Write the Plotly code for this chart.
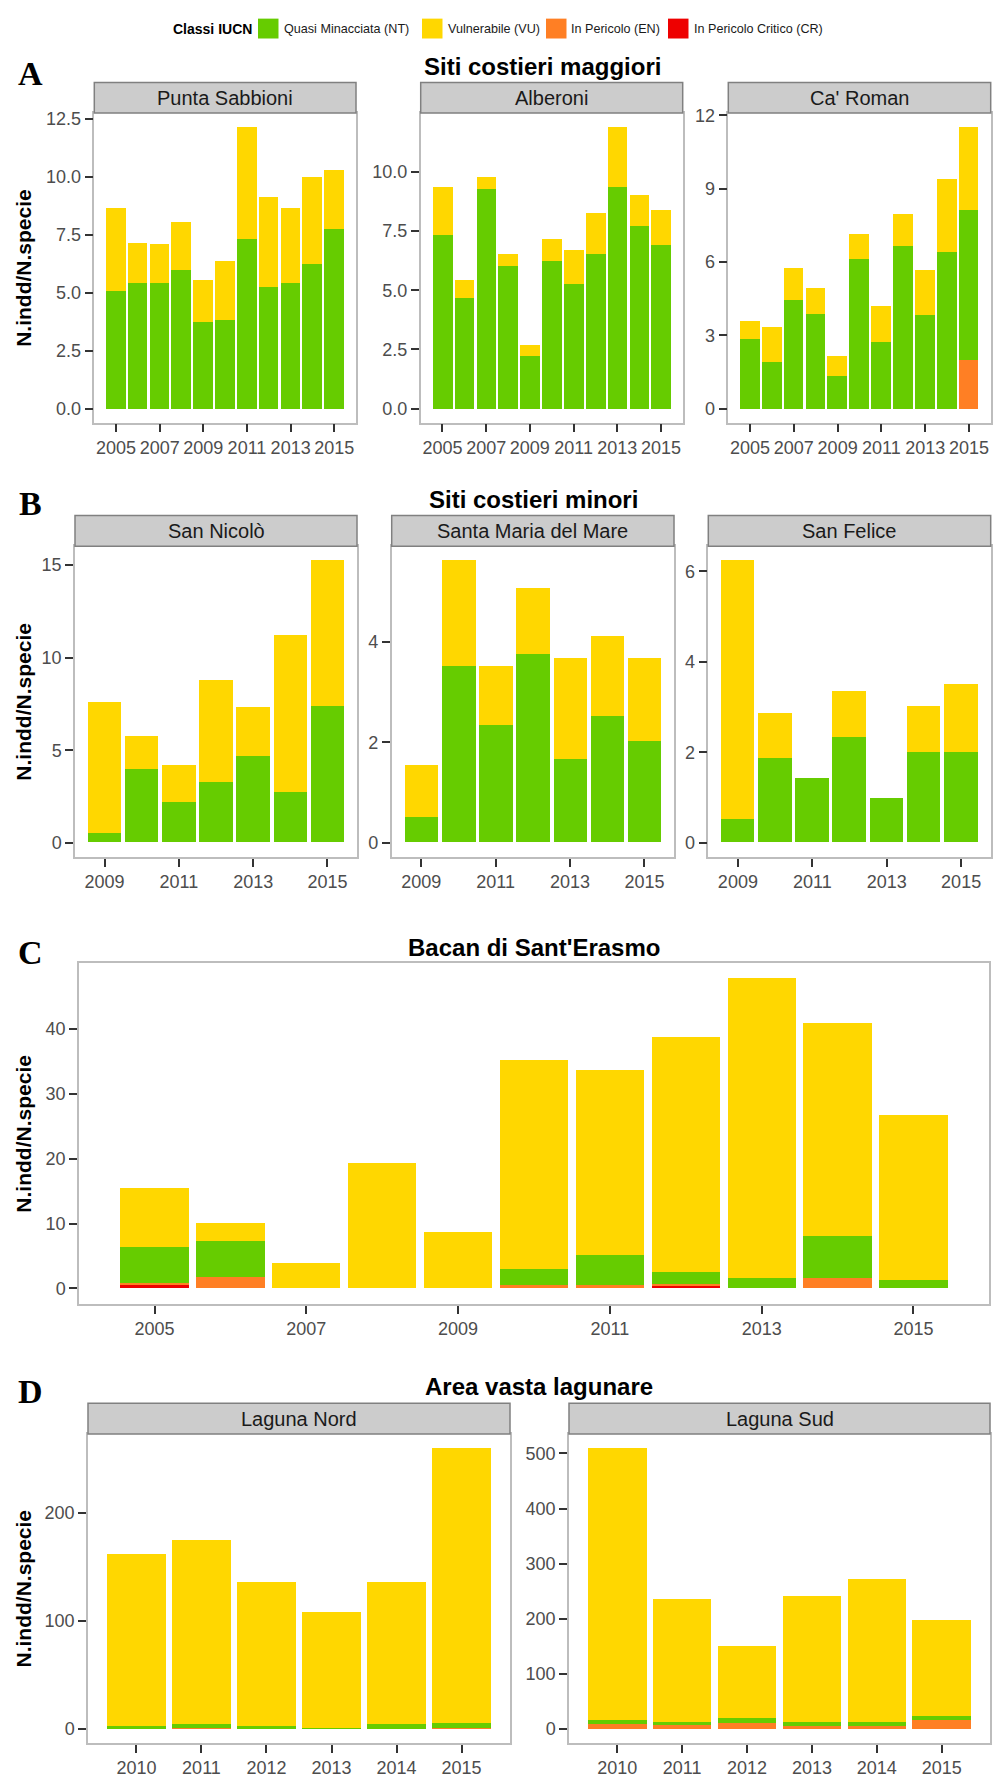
import plotly.graph_objects as go
import numpy as np

# ---------------- DATA ----------------
years_A = [2005, 2006, 2007, 2008, 2009, 2010, 2011, 2012, 2013, 2014, 2015]
years_B = [2009, 2010, 2011, 2012, 2013, 2014, 2015]
years_C = [2005, 2006, 2007, 2008, 2009, 2010, 2011, 2012, 2013, 2014, 2015]
years_D = [2010, 2011, 2012, 2013, 2014, 2015]

# A - Siti costieri maggiori
punta_NT = [5.06, 5.43, 5.43, 5.99, 3.73, 3.80, 7.31, 5.24, 5.39, 6.21, 7.73]
punta_VU = [3.58, 1.71, 1.64, 2.04, 1.83, 2.54, 4.82, 3.89, 3.24, 3.75, 2.54]
alberoni_NT = [7.34, 4.68, 9.27, 6.02, 2.20, 6.22, 5.28, 6.51, 9.37, 7.73, 6.89]
alberoni_VU = [2.00, 0.75, 0.49, 0.49, 0.49, 0.94, 1.41, 1.74, 2.52, 1.30, 1.50]
caroman_EN = [0, 0, 0, 0, 0, 0, 0, 0, 0, 0, 1.97]
caroman_NT = [2.85, 1.89, 4.44, 3.86, 1.34, 6.12, 2.71, 6.64, 3.83, 6.41, 6.16]
caroman_VU = [0.75, 1.44, 1.32, 1.09, 0.80, 1.01, 1.50, 1.31, 1.86, 2.97, 3.39]

# B - Siti costieri minori
sannicolo_NT = [0.50, 3.99, 2.17, 3.28, 4.67, 2.74, 7.39]
sannicolo_VU = [7.07, 1.76, 2.00, 5.49, 2.67, 8.48, 7.86]
smm_NT = [0.50, 3.52, 2.33, 3.76, 1.67, 2.51, 2.01]
smm_VU = [1.04, 2.10, 1.19, 1.31, 2.00, 1.60, 1.67]
sanfelice_NT = [0.51, 1.87, 1.42, 2.33, 0.99, 1.99, 1.99]
sanfelice_VU = [5.73, 1.00, 0.00, 1.01, 0.00, 1.02, 1.51]

# C - Bacan di Sant'Erasmo
bacan_CR = [0.50, 0, 0, 0, 0, 0, 0, 0.45, 0, 0, 0]
bacan_EN = [0.25, 1.68, 0, 0, 0, 0.50, 0.50, 0.25, 0, 1.53, 0]
bacan_NT = [5.53, 5.51, 0, 0, 0, 2.46, 4.65, 1.75, 1.58, 6.53, 1.28]
bacan_VU = [9.18, 2.91, 3.88, 19.29, 8.57, 32.24, 28.52, 36.22, 46.12, 32.74, 25.42]

# D - Area vasta lagunare
nord_EN = [0, 0.6, 0, 0, 0, 0.6]
nord_NT = [2.5, 3.7, 2.5, 1.0, 4.5, 5.0]
nord_VU = [159.2, 170.3, 133.2, 106.8, 131.2, 254.7]
sud_EN = [9, 6, 10, 5, 5, 15]
sud_NT = [7, 7, 9, 8, 8, 9]
sud_VU = [493.6, 222, 131, 228, 258, 172.6]

# tick values / labels
xt_A = [2005, 2007, 2009, 2011, 2013, 2015]
xt_B = [2009, 2011, 2013, 2015]
xt_C = [2005, 2007, 2009, 2011, 2013, 2015]
xt_D = [2010, 2011, 2012, 2013, 2014, 2015]
yt_punta = [0.0, 2.5, 5.0, 7.5, 10.0, 12.5]
yt_alberoni = [0.0, 2.5, 5.0, 7.5, 10.0]
yt_caroman = [0, 3, 6, 9, 12]
yt_sannicolo = [0, 5, 10, 15]
yt_smm = [0, 2, 4]
yt_sanfelice = [0, 2, 4, 6]
yt_bacan = [0, 10, 20, 30, 40]
yt_nord = [0, 100, 200]
yt_sud = [0, 100, 200, 300, 400, 500]

classes = ["CR", "EN", "NT", "VU"]
class_labels = {"NT": "Quasi Minacciata (NT)", "VU": "Vulnerabile (VU)",
                "EN": "In Pericolo (EN)", "CR": "In Pericolo Critico (CR)"}
COLORS = {"NT": "#66CC00", "VU": "#FFD700", "EN": "#FF7F24", "CR": "#EE0000"}

# ---------------- LAYOUT HELPERS ----------------
W, H = 1000, 1778
FONT = "Liberation Sans, Arial, Helvetica, sans-serif"
SERIF = "Liberation Serif, Times New Roman, serif"
TICKFONT = dict(family=FONT, size=18, color="#4D4D4D")

fig = go.Figure()
layout = {}
annotations = []
shapes = []


def fx(x):
    return x / W


def fy(y):
    return 1 - y / H


def add_panel(n, box, years, series, xticks, yticks, yfmt, strip=None):
    l, r, t, b = box
    xa = "xaxis" if n == 1 else f"xaxis{n}"
    ya = "yaxis" if n == 1 else f"yaxis{n}"
    xr = "x" if n == 1 else f"x{n}"
    yr = "y" if n == 1 else f"y{n}"
    for k in classes:
        if k in series:
            fig.add_trace(go.Bar(x=years, y=series[k], width=0.9, name=class_labels[k],
                                 marker=dict(color=COLORS[k], line=dict(width=0)),
                                 xaxis=xr, yaxis=yr, showlegend=False))
    total = np.sum([np.array(series[k]) for k in series], axis=0)
    m = float(total.max())
    span = years[-1] - years[0] + 0.9
    common = dict(ticks="outside", ticklen=8, tickwidth=2, tickcolor="#333333",
                  showline=True, mirror=True, linecolor="#BDBDBD", linewidth=1.5,
                  showgrid=False, zeroline=False, tickfont=TICKFONT)
    layout[xa] = dict(domain=[fx(l), fx(r)],
                      range=[years[0] - 0.45 - 0.05 * span, years[-1] + 0.45 + 0.05 * span],
                      anchor=yr, tickmode="array", tickvals=xticks,
                      ticktext=[str(v) for v in xticks], **common)
    layout[ya] = dict(domain=[fy(b), fy(t)], range=[-0.05 * m, 1.05 * m],
                      anchor=xr, tickmode="array", tickvals=yticks,
                      ticktext=[format(v, yfmt) for v in yticks], **common)
    if strip:
        st = strip[1]
        shapes.append(dict(type="rect", xref="paper", yref="paper",
                           x0=fx(l), x1=fx(r), y0=fy(t), y1=fy(st),
                           fillcolor="#CCCCCC", line=dict(color="#808080", width=1.5),
                           layer="above"))
        annotations.append(dict(text=strip[0], x=fx((l + r) / 2), y=fy((st + t) / 2),
                                xref="paper", yref="paper", showarrow=False,
                                xanchor="center", yanchor="middle",
                                font=dict(family=FONT, size=20, color="#1A1A1A")))


def ytitle(yc):
    annotations.append(dict(text="<b>N.indd/N.specie</b>", x=fx(24), y=fy(yc),
                            xref="paper", yref="paper", showarrow=False, textangle=-90,
                            xanchor="center", yanchor="middle",
                            font=dict(family=FONT, size=21, color="#000000")))


def title(text, xc, yc):
    annotations.append(dict(text=f"<b>{text}</b>", x=fx(xc), y=fy(yc),
                            xref="paper", yref="paper", showarrow=False,
                            xanchor="center", yanchor="middle",
                            font=dict(family=FONT, size=24, color="#000000")))


def letter(text, xc, yc):
    annotations.append(dict(text=f"<b>{text}</b>", x=fx(xc), y=fy(yc),
                            xref="paper", yref="paper", showarrow=False,
                            xanchor="center", yanchor="middle",
                            font=dict(family=SERIF, size=34, color="#000000")))


# ---------------- PANELS ----------------
# A
A_top, A_bot, A_strip = 106.7, 418.2, 76
add_panel(1, (94.3, 356, A_top, A_bot), years_A, {"NT": punta_NT, "VU": punta_VU},
          xt_A, yt_punta, ".1f", ("Punta Sabbioni", A_strip))
add_panel(2, (420.7, 682.7, A_top, A_bot), years_A, {"NT": alberoni_NT, "VU": alberoni_VU},
          xt_A, yt_alberoni, ".1f", ("Alberoni", A_strip))
add_panel(3, (728.3, 990.7, A_top, A_bot), years_A,
          {"EN": caroman_EN, "NT": caroman_NT, "VU": caroman_VU},
          xt_A, yt_caroman, "d", ("Ca' Roman", A_strip))
ytitle((A_top + A_bot) / 2)
title("Siti costieri maggiori", 542, 60)
letter("A", 30, 67)

# B
B_top, B_bot, B_strip = 542.7, 855.2, 511.7
add_panel(4, (75, 357, B_top, B_bot), years_B, {"NT": sannicolo_NT, "VU": sannicolo_VU},
          xt_B, yt_sannicolo, "d", ("San Nicolò", B_strip))
add_panel(5, (391.7, 674, B_top, B_bot), years_B, {"NT": smm_NT, "VU": smm_VU},
          xt_B, yt_smm, "d", ("Santa Maria del Mare", B_strip))
add_panel(6, (708.3, 990.7, B_top, B_bot), years_B, {"NT": sanfelice_NT, "VU": sanfelice_VU},
          xt_B, yt_sanfelice, "d", ("San Felice", B_strip))
ytitle((B_top + B_bot) / 2)
title("Siti costieri minori", 533, 496)
letter("B", 30, 500)

# C
C_top, C_bot = 962.3, 1305
add_panel(7, (79, 989, C_top, C_bot), years_C,
          {"CR": bacan_CR, "EN": bacan_EN, "NT": bacan_NT, "VU": bacan_VU},
          xt_C, yt_bacan, "d")
ytitle((C_top + C_bot) / 2)
title("Bacan di Sant'Erasmo", 534, 946)
letter("C", 30, 951)

# D
D_top, D_bot, D_strip = 1436, 1746.7, 1405
add_panel(8, (88, 510, D_top, D_bot), years_D,
          {"EN": nord_EN, "NT": nord_NT, "VU": nord_VU},
          xt_D, yt_nord, "d", ("Laguna Nord", D_strip))
add_panel(9, (569, 990, D_top, D_bot), years_D,
          {"EN": sud_EN, "NT": sud_NT, "VU": sud_VU},
          xt_D, yt_sud, "d", ("Laguna Sud", D_strip))
ytitle((D_top + D_bot) / 2)
title("Area vasta lagunare", 539, 1388)
letter("D", 30, 1393)

# ---------------- LEGEND ----------------
leg_y = 21.7
annotations.append(dict(text="<b>Classi IUCN</b>", x=fx(254), y=fy(leg_y), xref="paper",
                        yref="paper", showarrow=False, xanchor="right", yanchor="middle",
                        font=dict(family=FONT, size=14, color="#000000")))
leg_items = [("NT", 258, 282), ("VU", 422, 446), ("EN", 546, 569), ("CR", 668, 692)]
for k, bx, tx in leg_items:
    shapes.append(dict(type="rect", xref="paper", yref="paper",
                       x0=fx(bx), x1=fx(bx + 20.5), y0=fy(leg_y + 10), y1=fy(leg_y - 10),
                       fillcolor=COLORS[k], line=dict(width=0)))
    annotations.append(dict(text=class_labels[k], x=fx(tx), y=fy(leg_y), xref="paper",
                            yref="paper", showarrow=False, xanchor="left", yanchor="middle",
                            font=dict(family=FONT, size=12.6, color="#1A1A1A")))

fig.update_layout(width=W, height=H, margin=dict(l=0, r=0, t=0, b=0),
                  paper_bgcolor="white", plot_bgcolor="white", barmode="stack",
                  bargap=0, showlegend=False, annotations=annotations, shapes=shapes,
                  font=dict(family=FONT), **layout)

fig.write_html("out.html")
